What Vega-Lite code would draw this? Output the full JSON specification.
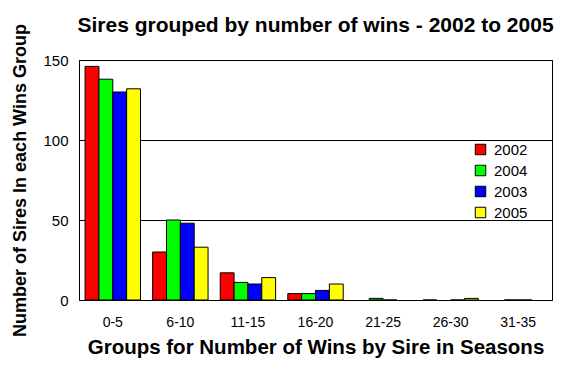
{
  "$schema": "https://vega.github.io/schema/vega-lite/v6.json",
  "width": 473,
  "height": 240,
  "autosize": {"type": "none"},
  "padding": {"left": 79, "top": 60, "right": 27, "bottom": 70},
  "background": "white",
  "title": {
    "text": "Sires grouped by number of wins - 2002 to 2005",
    "font": "Liberation Sans",
    "fontSize": 21,
    "fontWeight": "bold",
    "color": "black",
    "anchor": "middle",
    "offset": 6,
    "dy": 18
  },
  "data": {
    "values": [
      {"group": "0-5", "year": "2002", "count": 146},
      {"group": "0-5", "year": "2004", "count": 138},
      {"group": "0-5", "year": "2003", "count": 130},
      {"group": "0-5", "year": "2005", "count": 132},
      {"group": "6-10", "year": "2002", "count": 30},
      {"group": "6-10", "year": "2004", "count": 50},
      {"group": "6-10", "year": "2003", "count": 48},
      {"group": "6-10", "year": "2005", "count": 33},
      {"group": "11-15", "year": "2002", "count": 17},
      {"group": "11-15", "year": "2004", "count": 11},
      {"group": "11-15", "year": "2003", "count": 10},
      {"group": "11-15", "year": "2005", "count": 14},
      {"group": "16-20", "year": "2002", "count": 4},
      {"group": "16-20", "year": "2004", "count": 4},
      {"group": "16-20", "year": "2003", "count": 6},
      {"group": "16-20", "year": "2005", "count": 10},
      {"group": "21-25", "year": "2004", "count": 1},
      {"group": "21-25", "year": "2003", "count": 0},
      {"group": "26-30", "year": "2002", "count": 0},
      {"group": "26-30", "year": "2003", "count": 0},
      {"group": "26-30", "year": "2005", "count": 1},
      {"group": "31-35", "year": "2004", "count": 0},
      {"group": "31-35", "year": "2003", "count": 0}
    ]
  },
  "mark": {"type": "bar", "stroke": "black", "strokeWidth": 1},
  "encoding": {
    "x": {
      "field": "group",
      "type": "nominal",
      "sort": ["0-5", "6-10", "11-15", "16-20", "21-25", "26-30", "31-35"],
      "scale": {"paddingInner": 0.18, "paddingOuter": 0.09},
      "axis": {
        "title": "Groups for Number of Wins by Sire in Seasons",
        "titleFont": "Liberation Sans",
        "titleFontSize": 20.5,
        "titleFontWeight": "bold",
        "titleColor": "black",
        "titlePadding": 8,
        "labelFont": "Liberation Sans",
        "labelFontSize": 14,
        "labelColor": "black",
        "labelAngle": 0,
        "labelPadding": 15,
        "ticks": false,
        "domain": false
      }
    },
    "xOffset": {
      "field": "year",
      "type": "nominal",
      "sort": ["2002", "2004", "2003", "2005"],
      "scale": {"paddingInner": 0, "paddingOuter": 0}
    },
    "y": {
      "field": "count",
      "type": "quantitative",
      "scale": {"domain": [0, 150], "nice": false},
      "axis": {
        "title": "Number of Sires In each Wins Group",
        "titleFont": "Liberation Sans",
        "titleFontSize": 18,
        "titleFontWeight": "bold",
        "titleColor": "black",
        "titlePadding": 13,
        "values": [0, 50, 100, 150],
        "labelFont": "Liberation Sans",
        "labelFontSize": 15,
        "labelColor": "black",
        "labelPadding": 11,
        "ticks": false,
        "domain": false,
        "grid": true,
        "gridColor": "black",
        "gridOpacity": 1,
        "gridWidth": 1
      }
    },
    "color": {
      "field": "year",
      "type": "nominal",
      "scale": {
        "domain": ["2002", "2004", "2003", "2005"],
        "range": ["#ff0000", "#00ff00", "#0000ff", "#ffff00"]
      },
      "legend": {
        "title": null,
        "orient": "none",
        "legendX": 394,
        "legendY": 82,
        "symbolType": "square",
        "symbolSize": 110,
        "symbolStrokeColor": "black",
        "symbolStrokeWidth": 1,
        "symbolOpacity": 1,
        "labelFont": "Liberation Sans",
        "labelFontSize": 15,
        "labelColor": "black",
        "rowPadding": 5,
        "labelOffset": 6
      }
    }
  },
  "config": {
    "view": {"stroke": "black", "strokeWidth": 1}
  }
}
